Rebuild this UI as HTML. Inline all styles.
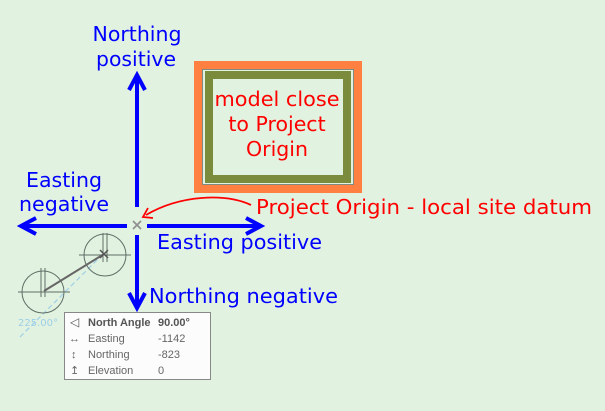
<!DOCTYPE html>
<html><head><meta charset="utf-8"><style>
html,body{margin:0;padding:0;background:#e2f2e0;}
svg{display:block}
</style></head><body>
<svg width="605" height="411" viewBox="0 0 605 411" xmlns="http://www.w3.org/2000/svg" font-family="'DejaVu Sans','Liberation Sans',sans-serif">
<rect width="605" height="411" fill="#e2f2e0"/>
<rect x="198" y="65" width="160" height="124" fill="none" stroke="#ff8040" stroke-width="8"/>
<rect x="202.5" y="69.5" width="151" height="115" fill="none" stroke="#7f8a80" stroke-width="1"/>
<rect x="209" y="75" width="138" height="104" fill="none" stroke="#7a8c3c" stroke-width="8"/>
<g fill="#ff0000" font-size="20.5" text-anchor="middle">
<text x="277" y="106" textLength="125" lengthAdjust="spacingAndGlyphs">model close</text>
<text x="277" y="131">to Project</text>
<text x="277" y="156">Origin</text>
</g>
<g stroke="#0000ff" stroke-width="4" fill="none">
<line x1="137" y1="207" x2="137" y2="76"/>
<polyline points="129,90 137,75 145,90"/>
<line x1="137" y1="235" x2="137" y2="306"/>
<polyline points="129,293 137,308 145,293"/>
<line x1="127" y1="226" x2="22" y2="226"/>
<polyline points="36,218 21,226 36,234"/>
<line x1="147" y1="226" x2="260" y2="226"/>
<polyline points="246,218 261,226 246,234"/>
</g>
<g stroke="#909090" stroke-width="1.8"><line x1="133" y1="221" x2="141" y2="229"/><line x1="141" y1="221" x2="133" y2="229"/></g>
<path d="M251 205 C225 193 180 195 146 215" stroke="#ff0000" stroke-width="1.8" fill="none"/>
<polyline points="148,208 143,217 153,218" stroke="#ff0000" stroke-width="1.8" fill="none"/>
<g fill="#0000ff" font-size="20">
<text x="137" y="41" text-anchor="middle" textLength="89" lengthAdjust="spacingAndGlyphs">Northing</text>
<text x="136" y="66" text-anchor="middle" textLength="80" lengthAdjust="spacingAndGlyphs">positive</text>
<text x="64" y="187" text-anchor="middle" textLength="76" lengthAdjust="spacingAndGlyphs">Easting</text>
<text x="64" y="211" text-anchor="middle" textLength="90" lengthAdjust="spacingAndGlyphs">negative</text>
<text x="157" y="249" textLength="165" lengthAdjust="spacingAndGlyphs">Easting positive</text>
<text x="149" y="303" textLength="189" lengthAdjust="spacingAndGlyphs">Northing negative</text>
</g>
<text x="256" y="214" fill="#ff0000" font-size="20" textLength="336" lengthAdjust="spacingAndGlyphs">Project Origin - local site datum</text>
<line x1="20" y1="337" x2="104" y2="253" stroke="#9ccfe8" stroke-width="1.2" stroke-dasharray="5,3"/>
<g stroke="#5f6f66" stroke-width="1" fill="none">
<circle cx="105" cy="255" r="21"/>
<line x1="79" y1="255" x2="131" y2="255"/><line x1="103" y1="233" x2="103" y2="262"/><line x1="107" y1="233" x2="107" y2="262"/>
<circle cx="43" cy="292" r="21"/>
<line x1="18" y1="292" x2="70" y2="292"/><line x1="41" y1="268" x2="41" y2="297"/><line x1="45" y1="268" x2="45" y2="297"/>
</g>
<line x1="44" y1="291" x2="104" y2="254" stroke="#666" stroke-width="2"/>
<g stroke="#555" stroke-width="1.5"><line x1="100" y1="250" x2="108" y2="258"/><line x1="108" y1="250" x2="100" y2="258"/></g>
<text x="18" y="326" fill="#9ccfe8" font-size="10">225.00°</text>
<rect x="64.5" y="312.5" width="146" height="67" fill="#fbfcfb" stroke="#888" stroke-width="1"/>
<g font-size="11" fill="#666" font-family="'Liberation Sans',sans-serif">
<text x="70" y="326" fill="#555" font-size="12">◁</text>
<text x="88" y="326" font-weight="bold" fill="#555">North Angle</text>
<text x="158" y="326" font-weight="bold" fill="#555">90.00°</text>
<text x="69" y="342">↔</text><text x="88" y="342">Easting</text><text x="158" y="342">-1142</text>
<text x="71" y="358">↕</text><text x="88" y="358">Northing</text><text x="158" y="358">-823</text>
<text x="70" y="374">↥</text><text x="88" y="374">Elevation</text><text x="158" y="374">0</text>
</g>
</svg>
</body></html>
